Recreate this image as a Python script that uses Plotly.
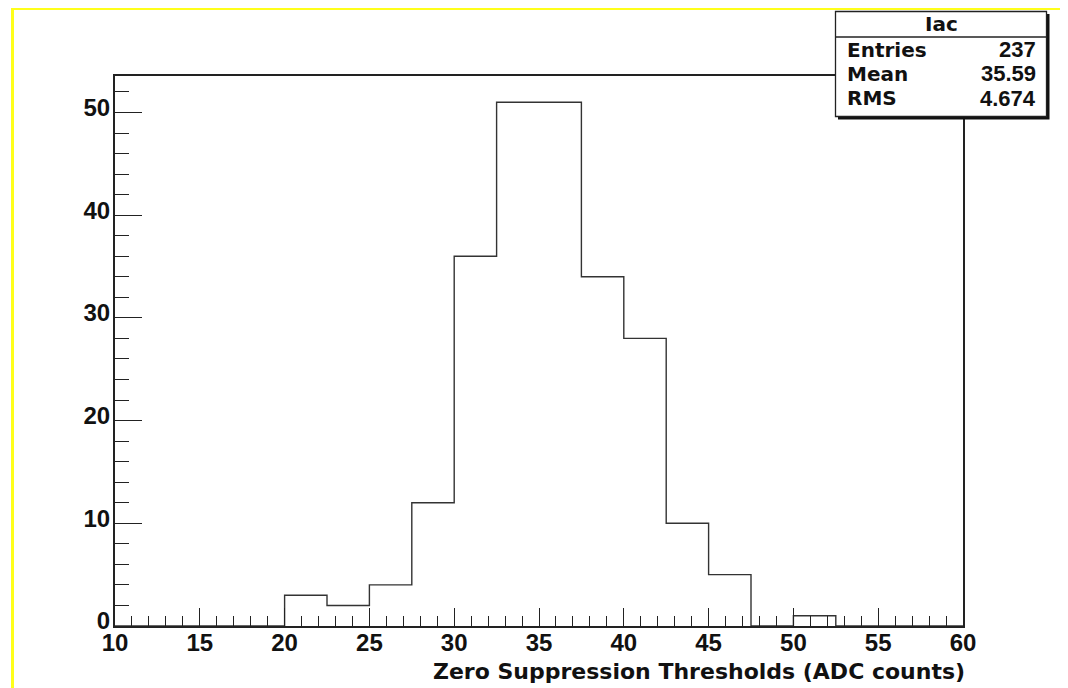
import plotly.graph_objects as go

# ---- data ----
bin_edges = [10 + 2.5 * i for i in range(21)]  # 10 .. 60, width 2.5
counts = [0, 0, 0, 0, 3, 2, 4, 12, 36, 51, 51, 34, 28, 10, 5, 0, 1, 0, 0, 0]
hist_name = "Iac"
stat_labels = ["Entries", "Mean", "RMS"]
stat_values = ["237", "35.59", "4.674"]
x_title = "Zero Suppression Thresholds (ADC counts)"

# ---- geometry (reference pixel coords; page body has an 8px margin) ----
OFF = 8
W, H = 1068 - OFF, 688 - OFF
L, R, T, B = 115, 963, 76, 626  # plot frame in reference pixels
PW, PH = R - L, B - T


def px(x):
    return (x - L) / PW


def py(y):
    return (B - y) / PH


FONT = "Liberation Sans, Arial, Helvetica, sans-serif"
WIDE = "DejaVu Sans, Verdana, sans-serif"
INK = "#222222"

step_x = bin_edges[:-1] + [bin_edges[-1]]
step_y = counts + [counts[-1]]

fig = go.Figure()
fig.add_trace(go.Scatter(
    x=step_x, y=step_y, mode="lines", line=dict(shape="hv", color="#333333", width=1.4),
    hoverinfo="skip", showlegend=False, cliponaxis=False,
))

ymax = max(counts) * 1.05

fig.update_layout(
    width=W, height=H,
    margin=dict(l=L - OFF, r=W - (R - OFF), t=T - OFF, b=H - (B - OFF), pad=0),
    paper_bgcolor="white", plot_bgcolor="white",
    showlegend=False,
    xaxis=dict(
        range=[bin_edges[0], bin_edges[-1]], tickmode="linear", tick0=10, dtick=5,
        ticks="inside", ticklen=18, tickwidth=1.3, tickcolor=INK,
        minor=dict(dtick=1, ticks="inside", ticklen=10, tickwidth=1.3, tickcolor=INK, showgrid=False),
        showgrid=False, zeroline=False, showline=True, linecolor=INK, linewidth=2, mirror=True,
        tickfont=dict(family=FONT, size=24, color="#111", weight="bold"),
        ticklabelstandoff=-6,
    ),
    yaxis=dict(
        range=[0, ymax], tickmode="linear", tick0=0, dtick=10,
        ticks="inside", ticklen=27, tickwidth=1.3, tickcolor=INK,
        minor=dict(dtick=2, ticks="inside", ticklen=14, tickwidth=1.3, tickcolor=INK, showgrid=False),
        showgrid=False, zeroline=False, showline=True, linecolor=INK, linewidth=2, mirror=True,
        tickfont=dict(family=FONT, size=24, color="#111", weight="bold"),
        ticklabelstandoff=-2, ticklabelshift=-5,
    ),
)

shapes = []
# yellow canvas border
shapes.append(dict(type="rect", xref="paper", yref="paper",
                   x0=px(12.5), x1=px(1063.5), y0=py(720), y1=py(8.5),
                   line=dict(color="#ffff1a", width=3), fillcolor="rgba(0,0,0,0)", layer="above"))
# stats box shadow
shapes.append(dict(type="rect", xref="paper", yref="paper",
                   x0=px(838), x1=px(1049.5), y0=py(119.5), y1=py(14),
                   line=dict(width=0), fillcolor="#111111", layer="above"))
# stats box
shapes.append(dict(type="rect", xref="paper", yref="paper",
                   x0=px(835.5), x1=px(1046.5), y0=py(116.5), y1=py(11.5),
                   line=dict(color=INK, width=1.3), fillcolor="white", layer="above"))
# separator under title
shapes.append(dict(type="line", xref="paper", yref="paper",
                   x0=px(835.5), x1=px(1046.5), y0=py(37), y1=py(37),
                   line=dict(color=INK, width=1.3), layer="above"))
fig.update_layout(shapes=shapes)

ann = []
ann.append(dict(text=hist_name, xref="paper", yref="paper", x=px(941), y=py(24),
                xanchor="center", yanchor="middle", showarrow=False,
                font=dict(family=WIDE, size=20, color="#111", weight="bold")))
row_y = [50, 74, 98]
for lab, val, yy in zip(stat_labels, stat_values, row_y):
    ann.append(dict(text=lab, xref="paper", yref="paper", x=px(845), y=py(yy),
                    xanchor="left", yanchor="middle", showarrow=False,
                    font=dict(family=WIDE, size=20, color="#111", weight="bold")))
    ann.append(dict(text=val, xref="paper", yref="paper", x=px(1038), y=py(yy),
                    xanchor="right", yanchor="middle", showarrow=False,
                    font=dict(family=FONT, size=22, color="#111", weight="bold")))
ann.append(dict(text=x_title, xref="paper", yref="paper", x=px(967), y=py(671),
                xanchor="right", yanchor="middle", showarrow=False,
                font=dict(family=WIDE, size=22, color="#111", weight="bold")))
fig.update_layout(annotations=ann)

fig.write_html("out.html")
